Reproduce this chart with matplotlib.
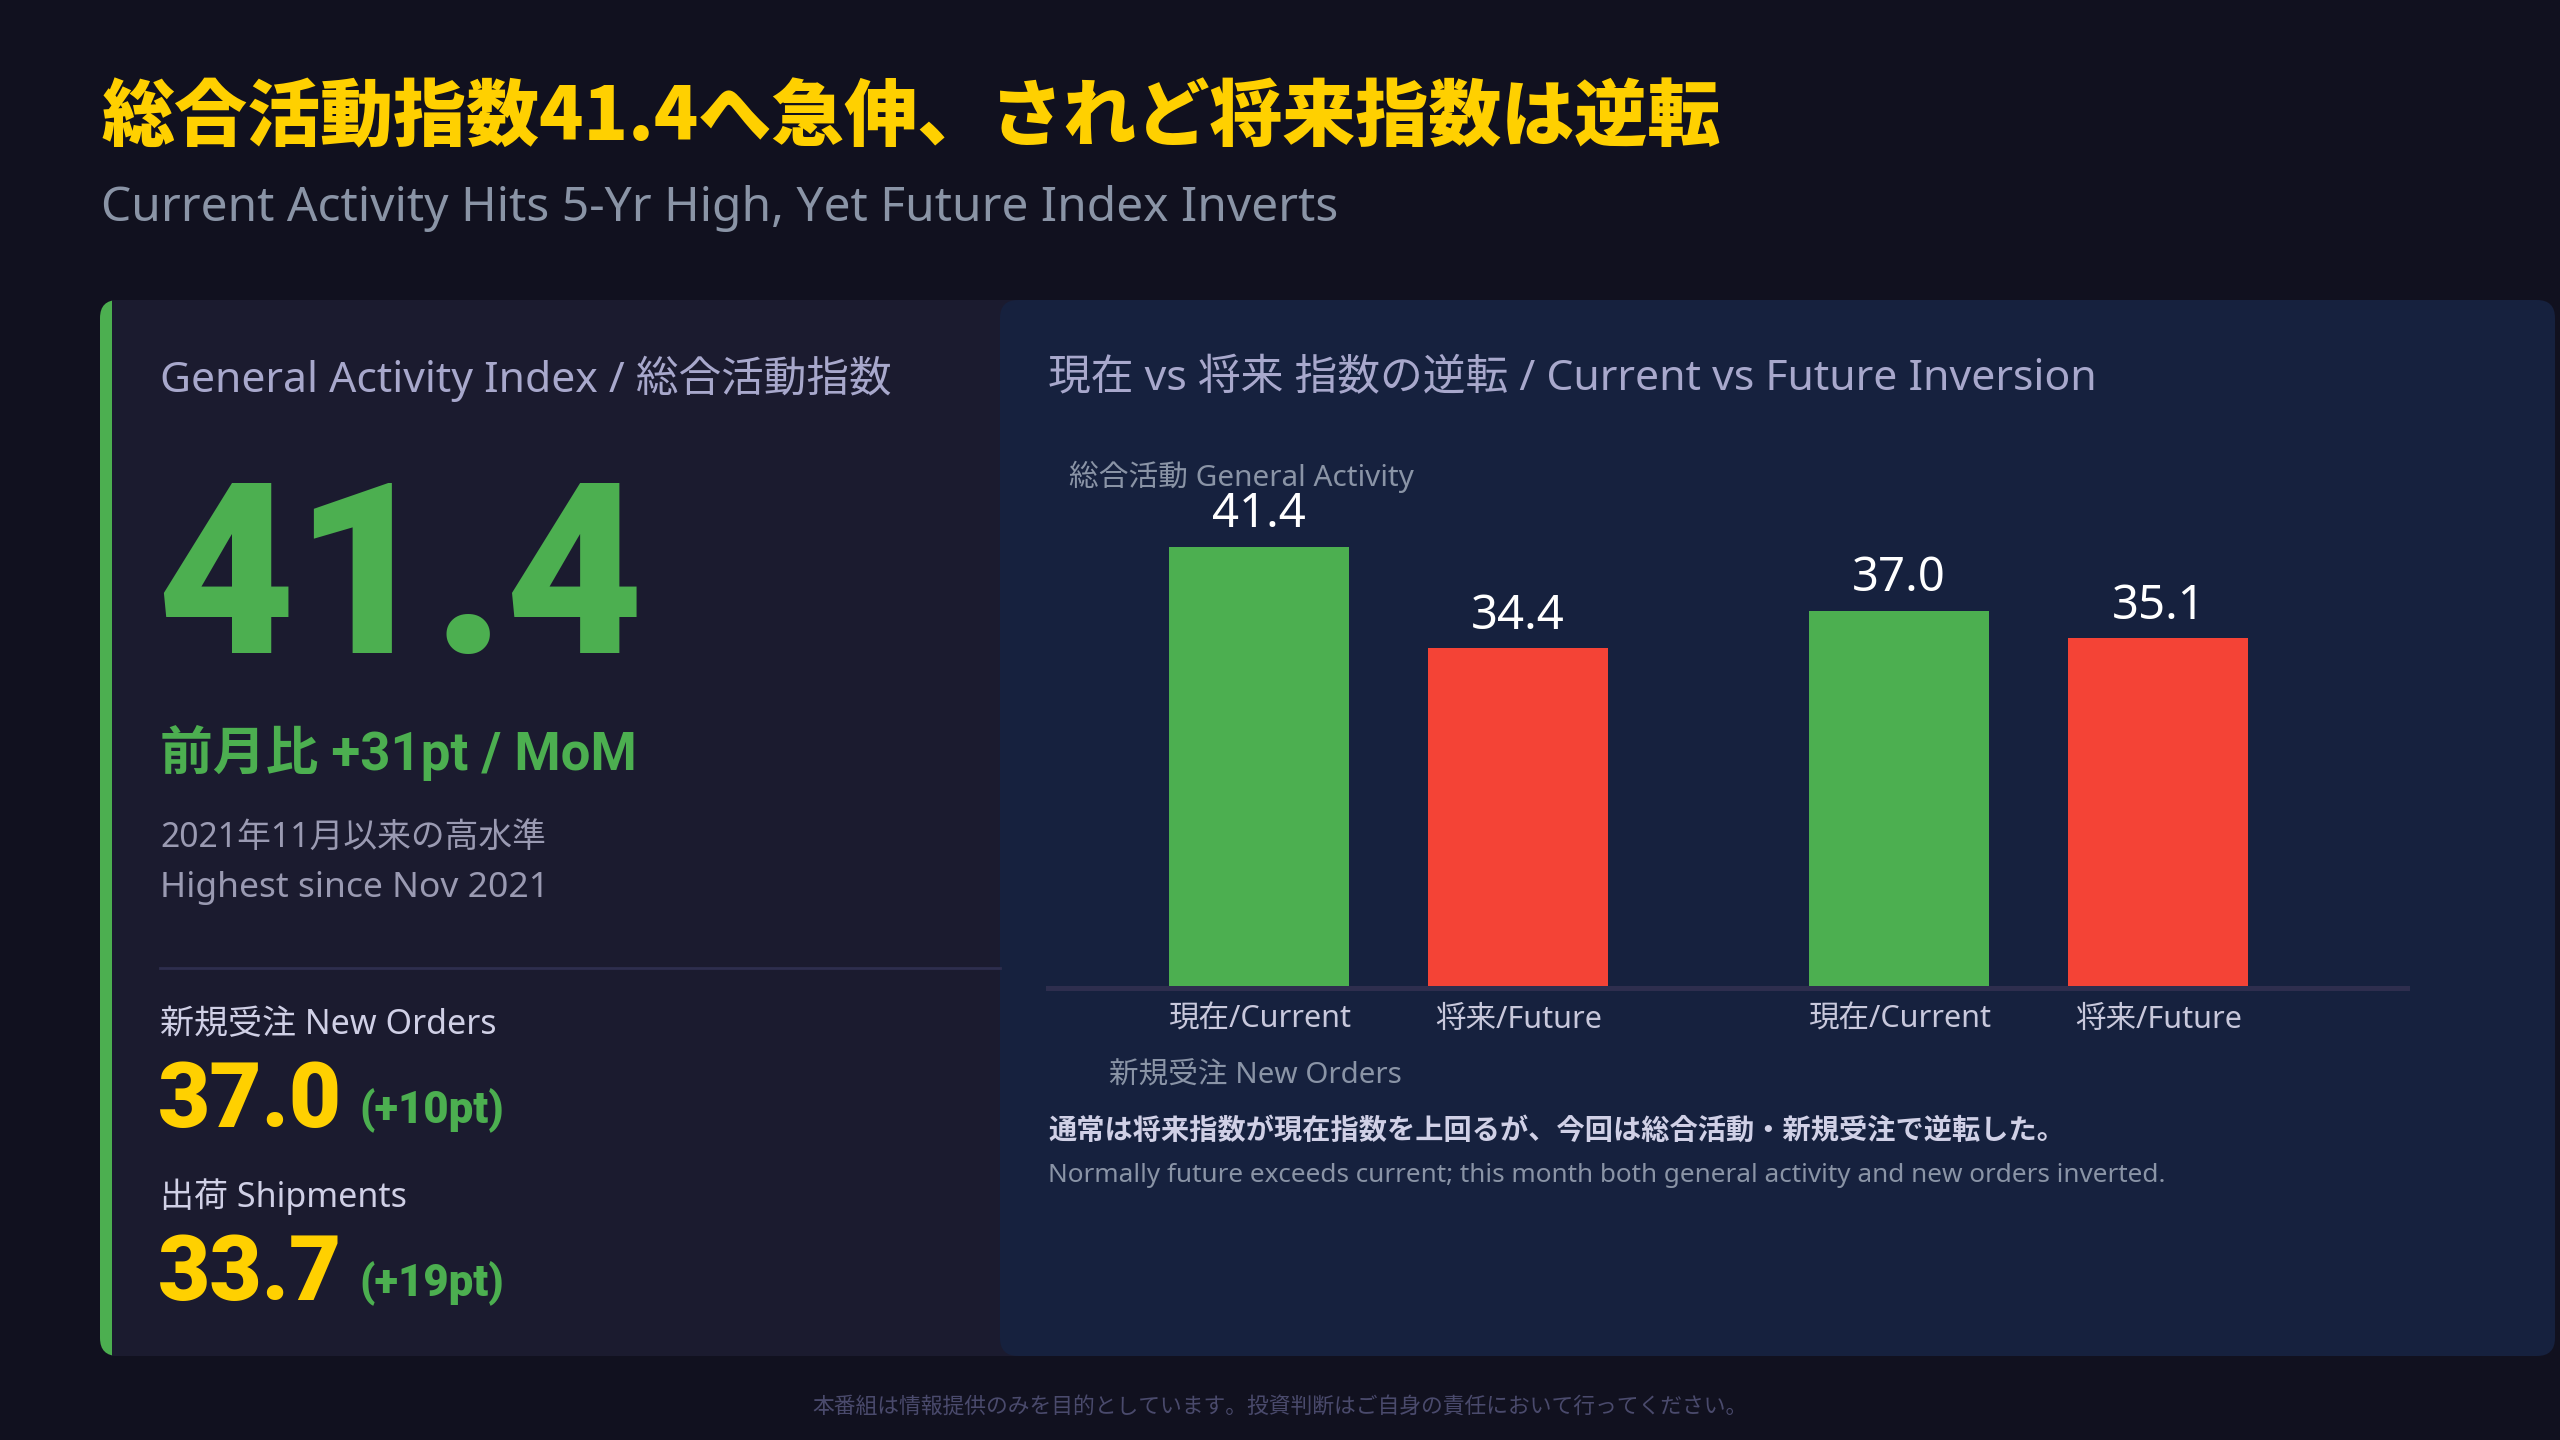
import matplotlib
matplotlib.use("Agg")
import matplotlib.pyplot as plt
from matplotlib.patches import FancyBboxPatch, Rectangle

# Latin text in Noto Sans, Japanese falls back to the CJK family
plt.rcParams['font.family'] = ['Noto Sans', 'Noto Sans CJK JP', 'DejaVu Sans']
CJK = ['Noto Sans CJK JP', 'DejaVu Sans']
HEAVY = ['Roboto', 'DejaVu Sans']
BOLD_MIX = ['Roboto', 'Noto Sans CJK JP', 'DejaVu Sans']

# Data
headline_value = 41.4
mom_text = "前月比 +31pt / MoM"
sub_items = ["新規受注 New Orders", "出荷 Shipments"]
sub_values = [37.0, 33.7]
sub_changes = ["(+10pt)", "(+19pt)"]

groups = ["総合活動 General Activity", "新規受注 New Orders"]
bar_labels = ["現在/Current", "将来/Future", "現在/Current", "将来/Future"]
current_vals = [41.4, 37.0]
future_vals = [34.4, 35.1]

# Colours
BG = "#11111f"
PANEL_L = "#1b1b2f"
PANEL_R = "#16213e"
GREEN = "#4caf50"
RED = "#f44336"
YELLOW = "#ffd000"
LAVENDER = "#a8a8cc"
GREY = "#8a94a6"
LIGHT = "#d0d0e6"

W, H = 2560, 1440
fig = plt.figure(figsize=(W / 100, H / 100), dpi=100, facecolor=BG)

# background axes in pixel coordinates
bg = fig.add_axes([0, 0, 1, 1])
bg.set_xlim(0, W)
bg.set_ylim(H, 0)
bg.axis("off")

# left panel with green edge
bg.add_patch(FancyBboxPatch((100, 300), 960, 1056, boxstyle="round,pad=0,rounding_size=18",
                            fc=GREEN, ec="none"))
bg.add_patch(Rectangle((112, 300), 940, 1056, fc=PANEL_L, ec="none"))
# right panel
bg.add_patch(FancyBboxPatch((1000, 300), 1555, 1056, boxstyle="round,pad=0,rounding_size=18",
                            fc=PANEL_R, ec="none"))

# titles
bg.text(101, 118, "総合活動指数41.4へ急伸、されど将来指数は逆転", color=YELLOW, family=CJK,
        fontsize=52.6, fontweight=900, va="center", ha="left")
bg.text(101, 208, "Current Activity Hits 5-Yr High, Yet Future Index Inverts", color=GREY,
        fontsize=34.5, va="center", ha="left")

# left panel content
bg.text(160, 379, "General Activity Index / 総合活動指数", color=LAVENDER, fontsize=30.7,
        va="center", ha="left")
bg.text(156, 653, f"{headline_value:.1f}", color=GREEN, fontsize=172, fontweight="black",
        family=HEAVY, va="baseline", ha="left")
bg.text(160, 753, mom_text, color=GREEN, fontsize=38, fontweight="bold", family=BOLD_MIX,
        va="center", ha="left")
bg.text(160, 839, "2021年11月以来の高水準", color="#9a9ab2", fontsize=24.3, va="center", ha="left")
bg.text(160, 888, "Highest since Nov 2021", color="#9a9ab2", fontsize=25.5, va="center", ha="left")
bg.plot([160, 1000], [968, 968], color="#2e2e4e", lw=2)

label_y = [1025, 1197]
num_base = [1127, 1300]
for name, val, chg, ly, nb in zip(sub_items, sub_values, sub_changes, label_y, num_base):
    bg.text(160, ly, name, color=LIGHT, fontsize=24.5, va="center", ha="left")
    bg.text(158, nb, f"{val:.1f}", color=YELLOW, fontsize=65, fontweight="black",
            family=HEAVY, va="baseline", ha="left")
    bg.text(359, nb - 4, chg, color=GREEN, fontsize=31.5, fontweight="black",
            family=HEAVY, va="baseline", ha="left")

# right panel content
bg.text(1048, 379, "現在 vs 将来 指数の逆転 / Current vs Future Inversion", color=LAVENDER,
        fontsize=30.8, va="center", ha="left")

ax_left, ax_right, ax_top, ax_bot = 1048, 2407, 400, 988
ax = fig.add_axes([ax_left / W, 1 - ax_bot / H, (ax_right - ax_left) / W, (ax_bot - ax_top) / H])
ax.set_facecolor("none")

group_step = 2.47
xs, vals, cols = [], [], []
for i in range(len(groups)):
    c = i * group_step
    xs += [c, c + 1]
    vals += [current_vals[i], future_vals[i]]
    cols += [GREEN, RED]

ax.bar(xs, vals, width=0.695, color=cols, zorder=2)
for x, v in zip(xs, vals):
    ax.annotate(f"{v:.1f}", (x, v), xytext=(0, 14), textcoords="offset points",
                ha="center", va="baseline", color="white", fontsize=34)

ax.set_xlim(-0.815, 4.43)
ax.set_ylim(11, 51.5)
ax.set_xticks(xs)
ax.set_xticklabels(bar_labels, color="#c8c8dc", fontsize=22)
ax.tick_params(axis="x", length=0, pad=12)
ax.set_yticks([])
for s in ["top", "left", "right"]:
    ax.spines[s].set_visible(False)
ax.spines["bottom"].set_color("#2e2e4e")
ax.spines["bottom"].set_linewidth(3.6)

# group labels
bg.text(1069, 477, groups[0], color=GREY, fontsize=21.4, va="center", ha="left")
bg.text(1109, 1076, groups[1], color=GREY, fontsize=21.3, va="center", ha="left")

# note
bg.text(1048, 1131, "通常は将来指数が現在指数を上回るが、今回は総合活動・新規受注で逆転した。",
        color=LIGHT, fontsize=20.3, fontweight="bold", family=CJK, va="center", ha="left")
bg.text(1048, 1176, "Normally future exceeds current; this month both general activity and new orders inverted.",
        color=GREY, fontsize=18.8, va="center", ha="left")

# footer
bg.text(1280, 1407, "本番組は情報提供のみを目的としています。投資判断はご自身の責任において行ってください。",
        color="#4a4a6c", fontsize=15.7, family=CJK, va="center", ha="center")

fig.savefig("out.png", dpi=100, facecolor=BG)
